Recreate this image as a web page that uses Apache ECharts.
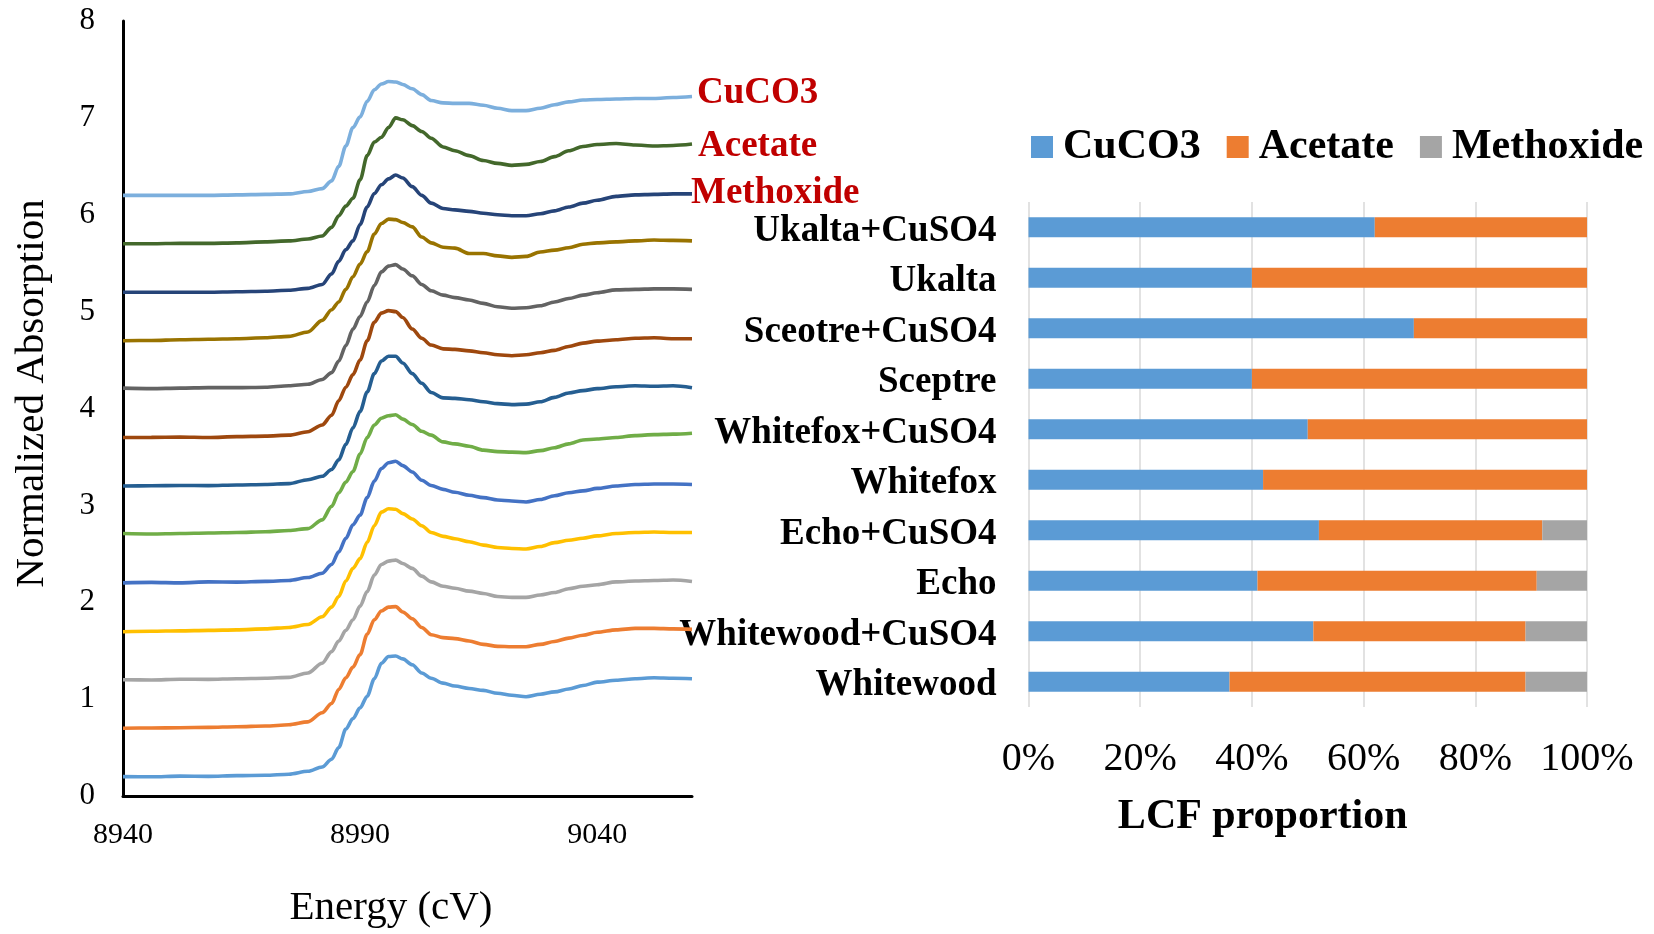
<!DOCTYPE html>
<html>
<head>
<meta charset="utf-8">
<title>Cu K-edge XANES and LCF proportions</title>
<script src="https://cdn.jsdelivr.net/npm/echarts@6/dist/echarts.min.js"></script>
<style>
  html, body { margin: 0; padding: 0; background: #ffffff; }
  #chart { width: 1654px; height: 934px; }
</style>
</head>
<body>
<div id="chart"></div>
<script>
// ---- XANES spectra (normalized absorption, stacked with 0.5 offsets) ----
const energy = [8940, 8946, 8952, 8958, 8964, 8970, 8975, 8979, 8982, 8984,
  8985.5, 8987, 8988.5, 8990, 8991.5, 8993, 8994.5, 8996, 8997.5, 8999,
  9001, 9003, 9005, 9007.5, 9010, 9013, 9016, 9019, 9022, 9025,
  9028, 9031, 9034, 9037, 9040, 9044, 9048, 9052, 9056, 9060];

const whitewood = [0.200, 0.198, 0.205, 0.203, 0.210, 0.214, 0.225, 0.255, 0.300, 0.380,
  0.500, 0.690, 0.800, 0.910, 1.030, 1.210, 1.370, 1.440, 1.445, 1.415,
  1.355, 1.270, 1.215, 1.165, 1.135, 1.110, 1.090, 1.060, 1.040, 1.025,
  1.050, 1.075, 1.105, 1.140, 1.175, 1.195, 1.210, 1.220, 1.215, 1.210];

const whitewoodCuSO4 = [0.700, 0.702, 0.705, 0.708, 0.715, 0.722, 0.735, 0.765, 0.860, 0.955,
  1.100, 1.220, 1.330, 1.460, 1.670, 1.820, 1.910, 1.950, 1.955, 1.900,
  1.830, 1.740, 1.665, 1.635, 1.625, 1.600, 1.565, 1.545, 1.540, 1.540,
  1.565, 1.595, 1.630, 1.660, 1.690, 1.715, 1.730, 1.730, 1.725, 1.720];

const echo = [1.200, 1.198, 1.205, 1.204, 1.210, 1.215, 1.225, 1.270, 1.370, 1.490,
  1.600, 1.710, 1.820, 1.960, 2.110, 2.280, 2.390, 2.425, 2.435, 2.400,
  2.350, 2.270, 2.210, 2.165, 2.145, 2.115, 2.090, 2.060, 2.050, 2.050,
  2.075, 2.100, 2.140, 2.165, 2.180, 2.210, 2.220, 2.225, 2.230, 2.215];

const echoCuSO4 = [1.695, 1.700, 1.705, 1.710, 1.715, 1.725, 1.740, 1.770, 1.850, 1.950,
  2.060, 2.220, 2.350, 2.450, 2.620, 2.790, 2.930, 2.965, 2.960, 2.915,
  2.860, 2.790, 2.720, 2.680, 2.655, 2.625, 2.590, 2.565, 2.555, 2.550,
  2.575, 2.615, 2.640, 2.660, 2.685, 2.710, 2.720, 2.725, 2.720, 2.720];

const whitefox = [2.200, 2.205, 2.200, 2.210, 2.208, 2.215, 2.225, 2.255, 2.300, 2.390,
  2.520, 2.660, 2.800, 2.900, 3.080, 3.250, 3.380, 3.440, 3.455, 3.410,
  3.345, 3.260, 3.205, 3.165, 3.135, 3.105, 3.080, 3.055, 3.045, 3.035,
  3.060, 3.100, 3.130, 3.150, 3.175, 3.200, 3.215, 3.220, 3.220, 3.215];

const whitefoxCuSO4 = [2.710, 2.705, 2.710, 2.715, 2.720, 2.728, 2.740, 2.760, 2.850, 2.990,
  3.130, 3.240, 3.350, 3.530, 3.700, 3.830, 3.900, 3.925, 3.935, 3.890,
  3.835, 3.765, 3.725, 3.655, 3.635, 3.610, 3.570, 3.555, 3.550, 3.545,
  3.565, 3.595, 3.635, 3.675, 3.685, 3.700, 3.720, 3.730, 3.735, 3.745];

const sceptre = [3.200, 3.202, 3.205, 3.204, 3.210, 3.215, 3.225, 3.265, 3.300, 3.370,
  3.470, 3.630, 3.800, 3.970, 4.170, 4.360, 4.490, 4.540, 4.540, 4.470,
  4.360, 4.260, 4.165, 4.110, 4.105, 4.090, 4.070, 4.050, 4.040, 4.045,
  4.070, 4.115, 4.160, 4.185, 4.205, 4.225, 4.235, 4.230, 4.235, 4.215];

const sceptreCuSO4 = [3.700, 3.702, 3.705, 3.700, 3.710, 3.715, 3.725, 3.760, 3.830, 3.930,
  4.080, 4.220, 4.350, 4.500, 4.700, 4.890, 4.985, 5.010, 5.000, 4.940,
  4.820, 4.725, 4.655, 4.615, 4.610, 4.595, 4.575, 4.555, 4.545, 4.555,
  4.575, 4.600, 4.640, 4.675, 4.695, 4.710, 4.725, 4.730, 4.720, 4.720];

const ukalta = [4.210, 4.205, 4.210, 4.215, 4.215, 4.220, 4.235, 4.250, 4.300, 4.370,
  4.490, 4.650, 4.820, 4.950, 5.100, 5.270, 5.410, 5.470, 5.485, 5.440,
  5.370, 5.280, 5.215, 5.170, 5.145, 5.120, 5.085, 5.050, 5.035, 5.040,
  5.060, 5.100, 5.135, 5.170, 5.195, 5.225, 5.230, 5.235, 5.235, 5.230];

const ukaltaCuSO4 = [4.700, 4.702, 4.710, 4.715, 4.720, 4.730, 4.745, 4.790, 4.910, 5.020,
  5.100, 5.230, 5.360, 5.490, 5.620, 5.800, 5.910, 5.955, 5.950, 5.920,
  5.875, 5.770, 5.710, 5.665, 5.655, 5.600, 5.600, 5.575, 5.560, 5.570,
  5.615, 5.635, 5.660, 5.695, 5.710, 5.720, 5.730, 5.740, 5.735, 5.730];

const methoxideRef = [5.200, 5.200, 5.200, 5.200, 5.205, 5.210, 5.220, 5.240, 5.280, 5.390,
  5.520, 5.640, 5.730, 5.900, 6.080, 6.220, 6.310, 6.370, 6.410, 6.380,
  6.290, 6.200, 6.120, 6.065, 6.050, 6.035, 6.015, 6.000, 5.990, 5.990,
  6.010, 6.040, 6.080, 6.120, 6.150, 6.190, 6.205, 6.210, 6.215, 6.215];

const acetateRef = [5.700, 5.700, 5.705, 5.705, 5.710, 5.720, 5.730, 5.750, 5.780, 5.870,
  5.990, 6.090, 6.170, 6.360, 6.610, 6.750, 6.800, 6.900, 7.000, 6.980,
  6.920, 6.860, 6.790, 6.700, 6.660, 6.610, 6.560, 6.530, 6.510, 6.520,
  6.550, 6.600, 6.660, 6.705, 6.725, 6.735, 6.720, 6.710, 6.715, 6.730];

const cuco3Ref = [6.200, 6.200, 6.200, 6.200, 6.205, 6.210, 6.215, 6.240, 6.270, 6.350,
  6.500, 6.710, 6.900, 7.010, 7.170, 7.290, 7.350, 7.375, 7.370, 7.345,
  7.300, 7.240, 7.180, 7.155, 7.150, 7.150, 7.130, 7.100, 7.075, 7.075,
  7.100, 7.135, 7.165, 7.185, 7.190, 7.195, 7.200, 7.200, 7.210, 7.220];

const energyTicks = [8940, 8990, 9040];

// ---- Linear combination fit proportions ----
const samples = ['Whitewood', 'Whitewood+CuSO4', 'Echo', 'Echo+CuSO4', 'Whitefox',
  'Whitefox+CuSO4', 'Sceptre', 'Sceotre+CuSO4', 'Ukalta', 'Ukalta+CuSO4'];
const lcfCuCO3 = [0.36, 0.51, 0.41, 0.52, 0.42, 0.50, 0.40, 0.69, 0.40, 0.62];
const lcfAcetate = [0.53, 0.38, 0.50, 0.40, 0.58, 0.50, 0.60, 0.31, 0.60, 0.38];
const lcfMethoxide = [0.11, 0.11, 0.09, 0.08, 0, 0, 0, 0, 0, 0];

// ---- styling ----
const SERIF = "'Times New Roman', 'Liberation Serif', serif";
const spectra = [
  { name: 'Whitewood', values: whitewood, color: '#5B9BD5' },
  { name: 'Whitewood+CuSO4', values: whitewoodCuSO4, color: '#ED7D31' },
  { name: 'Echo', values: echo, color: '#A5A5A5' },
  { name: 'Echo+CuSO4', values: echoCuSO4, color: '#FFC000' },
  { name: 'Whitefox', values: whitefox, color: '#4472C4' },
  { name: 'Whitefox+CuSO4', values: whitefoxCuSO4, color: '#70AD47' },
  { name: 'Sceptre', values: sceptre, color: '#255E91' },
  { name: 'Sceotre+CuSO4', values: sceptreCuSO4, color: '#9E480E' },
  { name: 'Ukalta', values: ukalta, color: '#636363' },
  { name: 'Ukalta+CuSO4', values: ukaltaCuSO4, color: '#997300' },
  { name: 'Methoxide standard', values: methoxideRef, color: '#264478', label: 'Methoxide', dx: -8, dy: 0 },
  { name: 'Acetate standard', values: acetateRef, color: '#43682B', label: 'Acetate', dx: -1, dy: 2 },
  { name: 'CuCO3 standard', values: cuco3Ref, color: '#7CAFDD', label: 'CuCO3', dx: -2, dy: -3 }
];

const lineSeries = spectra.map(s => {
  const ser = {
    name: s.name,
    type: 'line',
    xAxisIndex: 0,
    yAxisIndex: 0,
    data: energy.map((e, i) => [e, s.values[i]]),
    symbol: 'none',
    smooth: 0.3,
    smoothMonotone: 'x',
    lineStyle: { color: s.color, width: 3.6 },
    itemStyle: { color: s.color },
    silent: true
  };
  if (s.label) {
    ser.endLabel = {
      show: true,
      formatter: () => s.label,
      color: '#C00000',
      fontFamily: SERIF,
      fontWeight: 'bold',
      fontSize: 37,
      distance: 7,
      offset: [s.dx, s.dy]
    };
  }
  return ser;
});

const barColors = { CuCO3: '#5B9BD5', Acetate: '#ED7D31', Methoxide: '#A5A5A5' };
const barSeries = [
  ['CuCO3', lcfCuCO3],
  ['Acetate', lcfAcetate],
  ['Methoxide', lcfMethoxide]
].map(([name, vals]) => ({
  name,
  type: 'bar',
  stack: 'lcf',
  xAxisIndex: 1,
  yAxisIndex: 1,
  barWidth: 20,
  data: vals,
  itemStyle: { color: barColors[name] }
}));

const chart = echarts.init(document.getElementById('chart'));
chart.setOption({
  animation: false,
  backgroundColor: '#ffffff',
  textStyle: { fontFamily: SERIF, color: '#000' },
  grid: [
    { left: 123, top: 21, width: 569, height: 779 },
    { left: 1028.5, top: 202, width: 558.5, height: 505 }
  ],
  legend: {
    data: ['CuCO3', 'Acetate', 'Methoxide'],
    left: 1026,
    top: 121,
    icon: 'rect',
    itemWidth: 22,
    itemHeight: 22,
    itemGap: 26,
    selectedMode: false,
    textStyle: { fontFamily: SERIF, fontSize: 42, fontWeight: 'bold', color: '#000', padding: [0, 0, 0, 5] }
  },
  xAxis: [
    {
      gridIndex: 0,
      type: 'value',
      min: 8940,
      max: 9060,
      name: 'Energy (cV)',
      nameLocation: 'middle',
      nameGap: 92,
      nameTextStyle: { fontFamily: SERIF, fontSize: 41, color: '#000', padding: [0, 33, 0, 0] },
      axisLine: { show: true, lineStyle: { color: '#000', width: 3 } },
      axisTick: { show: false },
      splitLine: { show: false },
      axisLabel: { customValues: energyTicks, formatter: v => String(v), fontFamily: SERIF, fontSize: 30, color: '#000', margin: 24 }
    },
    {
      gridIndex: 1,
      type: 'value',
      min: 0,
      max: 1,
      interval: 0.2,
      name: 'LCF proportion',
      nameLocation: 'middle',
      nameGap: 89,
      nameTextStyle: { fontFamily: SERIF, fontSize: 42, fontWeight: 'bold', color: '#000', padding: [0, 90, 0, 0] },
      axisLine: { show: false },
      axisTick: { show: false },
      splitLine: { show: true, lineStyle: { color: '#D9D9D9', width: 1.5 } },
      axisLabel: { formatter: v => Math.round(v * 100) + '%', fontFamily: SERIF, fontSize: 40, color: '#000', margin: 32 }
    }
  ],
  yAxis: [
    {
      gridIndex: 0,
      type: 'value',
      min: 0,
      max: 8,
      interval: 1,
      name: 'Normalized Absorption',
      nameLocation: 'middle',
      nameGap: 70,
      nameTextStyle: { fontFamily: SERIF, fontSize: 41, color: '#000', padding: [0, 0, 0, 30] },
      axisLine: { show: true, lineStyle: { color: '#000', width: 3 } },
      axisTick: { show: false },
      splitLine: { show: false },
      axisLabel: { fontFamily: SERIF, fontSize: 31, color: '#000', margin: 28 }
    },
    {
      gridIndex: 1,
      type: 'category',
      data: samples,
      axisLine: { show: false },
      axisTick: { show: false },
      splitLine: { show: false },
      axisLabel: {
        margin: 32,
        formatter: v => '{s|' + v + '}',
        rich: { s: { fontFamily: SERIF, fontSize: 37, fontWeight: 'bold', color: '#000', padding: [8, 0, 0, 0] } }
      }
    }
  ],
  series: lineSeries.concat(barSeries)
});
</script>
</body>
</html>
